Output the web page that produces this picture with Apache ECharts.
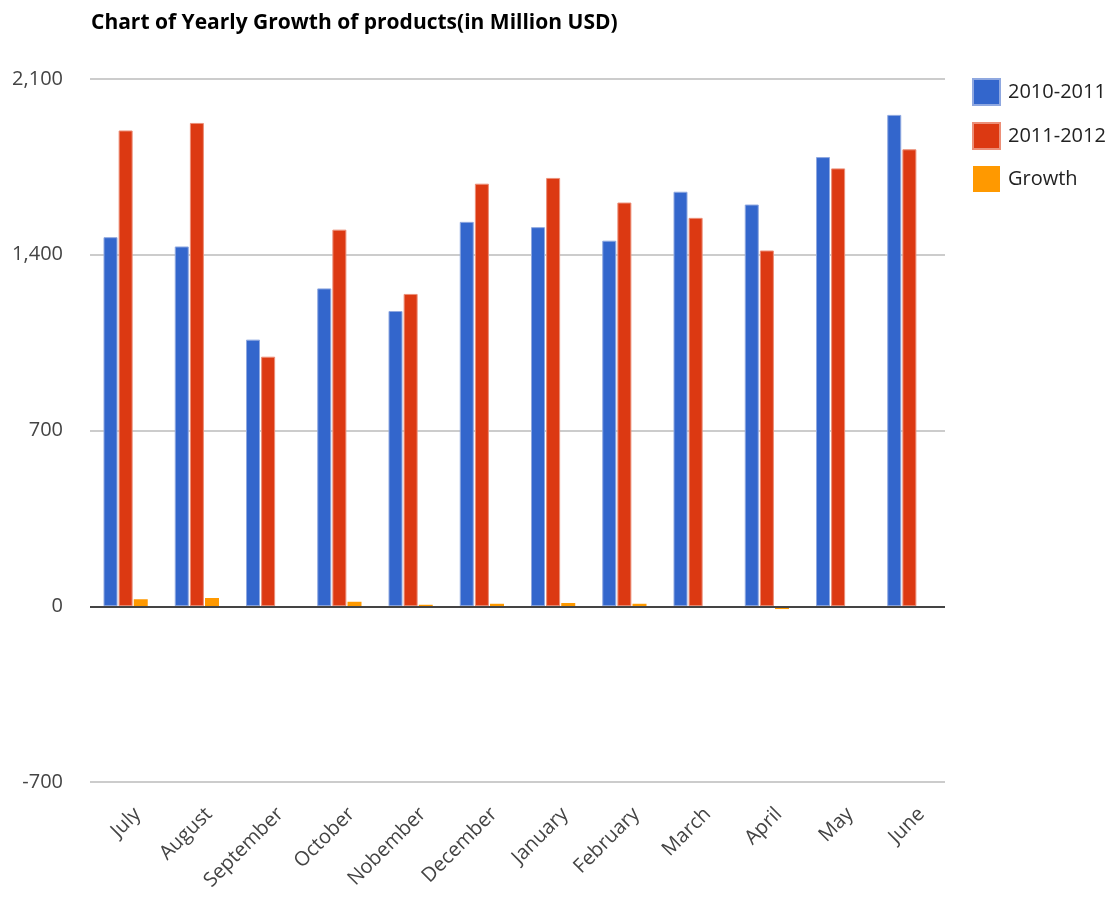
<!DOCTYPE html>
<html>
<head>
<meta charset="utf-8">
<script src="https://cdn.jsdelivr.net/npm/echarts@6/dist/echarts.min.js"></script>
<style>
  html, body { margin: 0; padding: 0; background: #fff; }
  #chart { width: 1119px; height: 898px; }
</style>
</head>
<body>
<div id="chart"></div>
<script>
var months = ['July', 'August', 'September', 'October', 'Nobember', 'December',
  'January', 'February', 'March', 'April', 'May', 'June'];
var sales2010 = [1470, 1433, 1062, 1266, 1176, 1531, 1510, 1456, 1651, 1600, 1789, 1957];
var sales2011 = [1895, 1925, 994, 1500, 1244, 1683, 1706, 1608, 1547, 1417, 1744, 1820];
var growth = [28, 33, 0, 18, 6, 10, 13, 10, 0, -11, 0, 0];
var yTicks = [-700, 0, 700, 1400, 2100];

function drawChart () {
  var chartDom = document.getElementById('chart');
  var myChart = echarts.init(chartDom);
  var option;
  var font = '"Open Sans", "Noto Sans", sans-serif';

  option = {
    animation: false,
    textStyle: { fontFamily: font },
    title: {
      text: 'Chart of Yearly Growth of products(in Million USD)',
      left: 86,
      top: 8,
      textStyle: { fontSize: 21, fontWeight: 'bold', color: '#000', fontFamily: font }
    },
    legend: {
      orient: 'vertical',
      left: 972,
      top: 78,
      padding: 0,
      itemWidth: 27,
      itemHeight: 26,
      itemGap: 16,
      icon: 'rect',
      textStyle: { fontSize: 20, color: '#222', fontFamily: font, padding: [0, 0, 0, 3] },
      data: ['2010-2011', '2011-2012', 'Growth']
    },
    grid: {
      left: 90,
      right: 174,
      top: 79,
      bottom: 114,
      containLabel: false
    },
    xAxis: {
      type: 'category',
      data: months,
      axisLine: { show: false, onZero: false },
      axisTick: { show: false },
      axisLabel: {
        rotate: 45,
        fontSize: 20,
        color: '#444',
        margin: 17,
        verticalAlign: 'top',
        lineHeight: 34,
        interval: 0
      }
    },
    yAxis: {
      type: 'value',
      min: yTicks[0],
      max: yTicks[yTicks.length - 1],
      interval: 700,
      axisLine: { show: false },
      axisTick: { show: false },
      axisLabel: {
        fontSize: 20,
        color: '#444',
        margin: 27,
        formatter: function (v) { return v.toLocaleString('en-US'); }
      },
      splitLine: { lineStyle: { color: '#cccccc', width: 2 } }
    },
    series: [
      {
        name: '2010-2011',
        type: 'bar',
        data: sales2010,
        barWidth: 14,
        barGap: '8%',
        itemStyle: { color: '#3366cc', borderColor: '#8fa8e0', borderWidth: 1 },
        markLine: {
          silent: true,
          symbol: 'none',
          label: { show: false },
          lineStyle: { color: '#444', width: 2, type: 'solid' },
          data: [{ yAxis: 0 }]
        }
      },
      {
        name: '2011-2012',
        type: 'bar',
        data: sales2011,
        barWidth: 14,
        barGap: '8%',
        itemStyle: { color: '#dc3912', borderColor: '#ec8f78', borderWidth: 1 }
      },
      {
        name: 'Growth',
        type: 'bar',
        data: growth,
        barWidth: 14,
        barGap: '8%',
        itemStyle: { color: '#ff9900', borderWidth: 0 }
      }
    ]
  };

  option && myChart.setOption(option);
}

drawChart()
</script>
</body>
</html>
